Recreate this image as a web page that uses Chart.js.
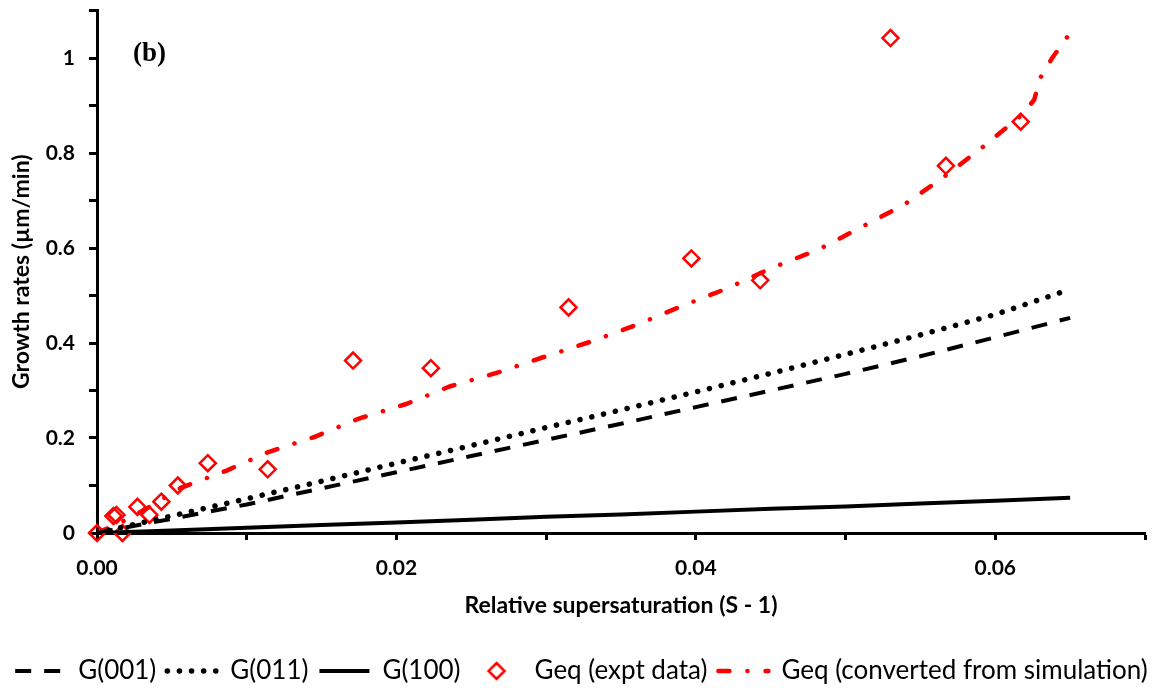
<!DOCTYPE html>
<html>
<head>
<meta charset="utf-8">
<script src="https://cdn.jsdelivr.net/npm/chart.js@4.4.1/dist/chart.umd.min.js"></script>
<style>
  html, body { margin: 0; padding: 0; background: #fff; }
  #wrap { width: 1163px; height: 688px; }
</style>
</head>
<body>
<div id="wrap"><canvas id="chartGrowth"></canvas></div>
<script>
// ── data ─────────────────────────────────────────────────
// supersaturation grid for the model facet curves
const sigma = [0, 0.005, 0.01, 0.015, 0.02, 0.025, 0.03, 0.035, 0.04, 0.045, 0.05, 0.055, 0.06, 0.065];
const g001  = [0, 0.030, 0.060, 0.094, 0.128, 0.162, 0.196, 0.230, 0.265, 0.300, 0.335, 0.372, 0.412, 0.453];
const g011  = [0, 0.036, 0.072, 0.109, 0.147, 0.184, 0.222, 0.259, 0.297, 0.336, 0.376, 0.417, 0.460, 0.513];
const g100  = [0, 0.0055, 0.011, 0.017, 0.022, 0.028, 0.034, 0.039, 0.045, 0.051, 0.056, 0.062, 0.068, 0.074];

// experimental points
const exptX = [0, 0.0011, 0.0013, 0.0017, 0.0027, 0.0035, 0.0043, 0.0054, 0.0074, 0.0114, 0.0171, 0.0223, 0.0315, 0.0397, 0.0443, 0.0530, 0.0567, 0.0617];
const exptY = [0, 0.036, 0.038, 0, 0.055, 0.038, 0.066, 0.100, 0.147, 0.134, 0.363, 0.347, 0.475, 0.578, 0.532, 1.042, 0.773, 0.866];

// converted simulation curve
const simX = [0, 0.0019, 0.0034, 0.0056, 0.0087, 0.0114, 0.0145, 0.0175, 0.0206, 0.0236, 0.0268, 0.0298, 0.0330, 0.0361, 0.0390, 0.0421, 0.0450, 0.0482, 0.0510, 0.0539, 0.0565, 0.0591, 0.0617, 0.0626, 0.0630, 0.0638, 0.0650];
const simY = [0, 0.027, 0.053, 0.095, 0.132, 0.170, 0.202, 0.241, 0.271, 0.309, 0.338, 0.370, 0.403, 0.439, 0.477, 0.515, 0.557, 0.597, 0.643, 0.691, 0.748, 0.811, 0.878, 0.912, 0.958, 1.000, 1.053];

const labels = ['G(001)', 'G(011)', 'G(100)', 'Geq (expt data)', 'Geq (converted from simulation)'];

// ── helpers ──────────────────────────────────────────────
const pairs = (xs, ys) => xs.map((x, i) => ({ x, y: ys[i] }));

const FONT = 'Lato, "Open Sans", "Liberation Sans", sans-serif';
const RED = '#FF0000';

// small hollow diamond for the legend entry of the markers
function legendDiamond() {
  const c = document.createElement('canvas');
  c.width = 24; c.height = 24;
  const g = c.getContext('2d');
  g.strokeStyle = RED;
  g.lineWidth = 2.5;
  g.beginPath();
  g.moveTo(12, 4); g.lineTo(20, 12); g.lineTo(12, 20); g.lineTo(4, 12);
  g.closePath();
  g.stroke();
  return c;
}
const diamondIcon = legendDiamond();

// "(b)" panel tag
const panelTag = {
  id: 'panelTag',
  afterDraw(chart) {
    const { ctx, chartArea } = chart;
    ctx.save();
    ctx.font = 'bold 27px "Liberation Serif", "DejaVu Serif", serif';
    ctx.fillStyle = '#000';
    ctx.textBaseline = 'middle';
    ctx.fillText('(b)', chartArea.left + 36, chartArea.top + 44);
    ctx.restore();
  },
};

const lineBase = { showLine: true, pointRadius: 0, pointHoverRadius: 0, tension: 0, fill: false, pointStyle: 'line' };

new Chart(document.getElementById('chartGrowth'), {
  type: 'scatter',
  data: {
    datasets: [
      { ...lineBase, label: labels[0], data: pairs(sigma, g001),
        borderColor: '#000', borderWidth: 4, borderDash: [16, 13] },
      { ...lineBase, label: labels[1], data: pairs(sigma, g011),
        borderColor: '#000', borderWidth: 5.5, borderDash: [0.1, 12], borderCapStyle: 'round' },
      { ...lineBase, label: labels[2], data: pairs(sigma, g100),
        borderColor: '#000', borderWidth: 4 },
      { label: labels[3], data: pairs(exptX, exptY),
        pointStyle: 'rectRot', pointRadius: 8, pointHoverRadius: 8,
        borderColor: RED, backgroundColor: 'rgba(0,0,0,0)', borderWidth: 2.5, clip: false },
      { ...lineBase, label: labels[4], data: pairs(simX, simY),
        borderColor: RED, borderWidth: 4.5, borderDash: [11, 18, 0.1, 18], borderCapStyle: 'round' },
    ],
  },
  options: {
    responsive: true,
    maintainAspectRatio: false,
    animation: false,
    // negative bottom lets the legend row sit a little lower
    layout: { padding: { top: 10, left: 0, right: 0, bottom: -6 } },
    plugins: {
      tooltip: { enabled: false },
      legend: {
        position: 'bottom',
        labels: {
          color: '#000',
          font: { family: FONT, size: 26 },
          usePointStyle: true,
          pointStyleWidth: 50,
          padding: 11,
          // point-style legend items lose the dataset's line style, put it back
          generateLabels(chart) {
            const items = Chart.defaults.plugins.legend.labels.generateLabels(chart);
            items.forEach(item => {
              const ds = chart.data.datasets[item.datasetIndex];
              if (ds.showLine) {
                item.lineDash = ds.borderDash || [];
                item.lineWidth = ds.borderWidth;
                item.lineCap = ds.borderCapStyle || 'butt';
                item.strokeStyle = ds.borderColor;
              } else {
                item.pointStyle = diamondIcon;
              }
            });
            return items;
          },
        },
      },
    },
    scales: {
      x: {
        type: 'linear',
        min: 0, max: 0.07,
        afterFit(s) { s.height = 114; s.paddingRight = 18; },
        border: { display: true, color: '#000', width: 3 },
        grid: { display: true, drawOnChartArea: false, drawTicks: true, tickLength: 7, tickColor: '#000', tickWidth: 3 },
        ticks: {
          stepSize: 0.01, autoSkip: false, maxRotation: 0, padding: 16,
          color: '#000', font: { family: FONT, size: 21, weight: 'bold' },
          callback: v => (Math.round(v * 100) % 2 === 0 ? v.toFixed(2) : ''),
        },
        title: {
          display: true, text: 'Relative supersaturation (S - 1)', color: '#000',
          font: { family: FONT, size: 23, weight: 'bold' }, padding: { top: 0, bottom: 28 },
        },
      },
      y: {
        type: 'linear',
        min: 0, max: 1.1,
        afterFit(s) { s.width = 97; s.paddingTop = 0; },
        border: { display: true, color: '#000', width: 3 },
        grid: { display: true, drawOnChartArea: false, drawTicks: true, tickLength: 8, tickColor: '#000', tickWidth: 3 },
        ticks: {
          stepSize: 0.1, autoSkip: false, padding: 14,
          color: '#000', font: { family: FONT, size: 21, weight: 'bold' },
          callback: v => (Math.round(v * 10) % 2 === 0 ? String(+v.toFixed(1)) : ''),
        },
        title: {
          display: true, text: 'Growth rates (µm/min)', color: '#000',
          font: { family: FONT, size: 23, weight: 'bold' }, padding: { top: 8, bottom: 0 },
        },
      },
    },
  },
  plugins: [panelTag],
});
</script>
</body>
</html>
